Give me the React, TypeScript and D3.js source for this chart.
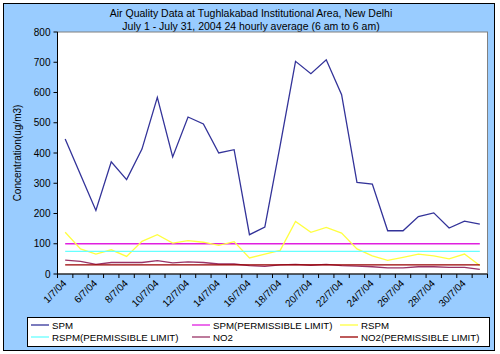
import React from "react";
import { scaleBand, scaleLinear, line } from "d3";

const dates = [
  "1/7/04", "2/7/04", "6/7/04", "7/7/04", "8/7/04", "9/7/04", "10/7/04",
  "11/7/04", "12/7/04", "13/7/04", "14/7/04", "15/7/04", "16/7/04", "17/7/04",
  "18/7/04", "19/7/04", "20/7/04", "21/7/04", "22/7/04", "23/7/04", "24/7/04",
  "25/7/04", "26/7/04", "27/7/04", "28/7/04", "29/7/04", "30/7/04", "31/7/04",
];

const spm = [
  446, 328, 210, 371, 312, 413, 584, 387, 519, 496, 400, 411, 130, 155,
  425, 703, 662, 708, 593, 303, 297, 143, 143, 190, 202, 152, 175, 165,
];
const rspm = [
  138, 83, 66, 80, 58, 108, 130, 102, 110, 105, 95, 107, 53, 66,
  78, 174, 138, 154, 135, 83, 60, 45, 55, 66, 60, 50, 66, 28,
];
const no2 = [
  46, 42, 32, 38, 38, 38, 44, 37, 40, 38, 33, 33, 28, 25,
  30, 32, 29, 32, 28, 26, 24, 20, 20, 24, 24, 22, 22, 15,
];
const spmLimit = dates.map(() => 100);
const rspmLimit = dates.map(() => 75);
const no2Limit = dates.map(() => 30);

const yTicks = [0, 100, 200, 300, 400, 500, 600, 700, 800];

const series = [
  { name: "SPM", values: spm, color: "#333399" },
  { name: "SPM(PERMISSIBLE LIMIT)", values: spmLimit, color: "#e020e0" },
  { name: "RSPM", values: rspm, color: "#ffff40" },
  { name: "RSPM(PERMISSIBLE LIMIT)", values: rspmLimit, color: "#66ffff" },
  { name: "NO2", values: no2, color: "#993366" },
  { name: "NO2(PERMISSIBLE LIMIT)", values: no2Limit, color: "#990000" },
];

const W = 500;
const H = 354;
const plot = { left: 57.5, right: 487.5, top: 32, bottom: 274 };
const font = "'Liberation Sans', Arial, sans-serif";

export default function App() {
  const x = scaleBand<string>()
    .domain(dates)
    .range([plot.left, plot.right])
    .padding(0);
  const y = scaleLinear().domain([0, 800]).range([plot.bottom, plot.top]);
  const cx = (i: number) => (x(dates[i]) as number) + x.bandwidth() / 2;

  const path = line<number>()
    .x((_, i) => cx(i))
    .y((d) => y(d));

  const boundaries = dates.map((d) => x(d) as number).concat([plot.right]);

  // legend layout: 3 columns, 2 rows
  const legendCols = [31, 192, 340];
  const legendRows = [325, 337];

  return (
    <svg
      width={W}
      height={H}
      style={{ position: "absolute", left: 0, top: 0 }}
      fontFamily={font}
    >
      <rect x={0} y={0} width={W} height={H} fill="#ffffff" />
      <rect x={3.5} y={3.5} width={491} height={347} fill="#99ccff" stroke="#000" />

      <text x={251} y={17} textAnchor="middle" fontSize={10.5}>
        Air Quality Data at Tughlakabad Institutional Area, New Delhi
      </text>
      <text x={251} y={29.5} textAnchor="middle" fontSize={10.5}>
        July 1 - July 31, 2004 24 hourly average (6 am to 6 am)
      </text>

      <rect
        x={plot.left}
        y={plot.top}
        width={plot.right - plot.left}
        height={plot.bottom - plot.top}
        fill="#ffffff"
        stroke="#808080"
      />

      {/* y axis */}
      <line x1={plot.left} x2={plot.left} y1={plot.top} y2={plot.bottom} stroke="#000" />
      {yTicks.map((t) => (
        <g key={t}>
          <line x1={plot.left - 4} x2={plot.left} y1={y(t)} y2={y(t)} stroke="#000" />
          <text x={plot.left - 7} y={y(t) + 3.5} textAnchor="end" fontSize={10}>
            {t}
          </text>
        </g>
      ))}
      <text
        transform={`translate(21,153) rotate(-90)`}
        textAnchor="middle"
        fontSize={10}
      >
        Concentration(ug/m3)
      </text>

      {/* x axis */}
      <line x1={plot.left} x2={plot.right} y1={plot.bottom} y2={plot.bottom} stroke="#000" />
      {boundaries.map((b, i) => (
        <line key={i} x1={b} x2={b} y1={plot.bottom} y2={plot.bottom + 4} stroke="#000" />
      ))}
      {dates.map((d, i) =>
        i % 2 === 0 ? (
          <text
            key={d}
            transform={`translate(${cx(i) + 2},${plot.bottom + 10}) rotate(-45)`}
            textAnchor="end"
            fontSize={10}
          >
            {d}
          </text>
        ) : null
      )}

      {/* series */}
      {series.map((s) => (
        <path
          key={s.name}
          d={path(s.values) || ""}
          fill="none"
          stroke={s.color}
          strokeWidth={1.3}
        />
      ))}

      {/* legend */}
      <rect x={27.5} y={317.5} width={462} height={29} fill="#ffffff" stroke="#000" />
      {series.map((s, i) => {
        const lx = legendCols[i % 3];
        const ly = legendRows[Math.floor(i / 3)];
        return (
          <g key={s.name}>
            <line x1={lx} x2={lx + 18} y1={ly} y2={ly} stroke={s.color} strokeWidth={1.3} />
            <text x={lx + 21} y={ly + 3.5} fontSize={9.7}>
              {s.name}
            </text>
          </g>
        );
      })}
    </svg>
  );
}
